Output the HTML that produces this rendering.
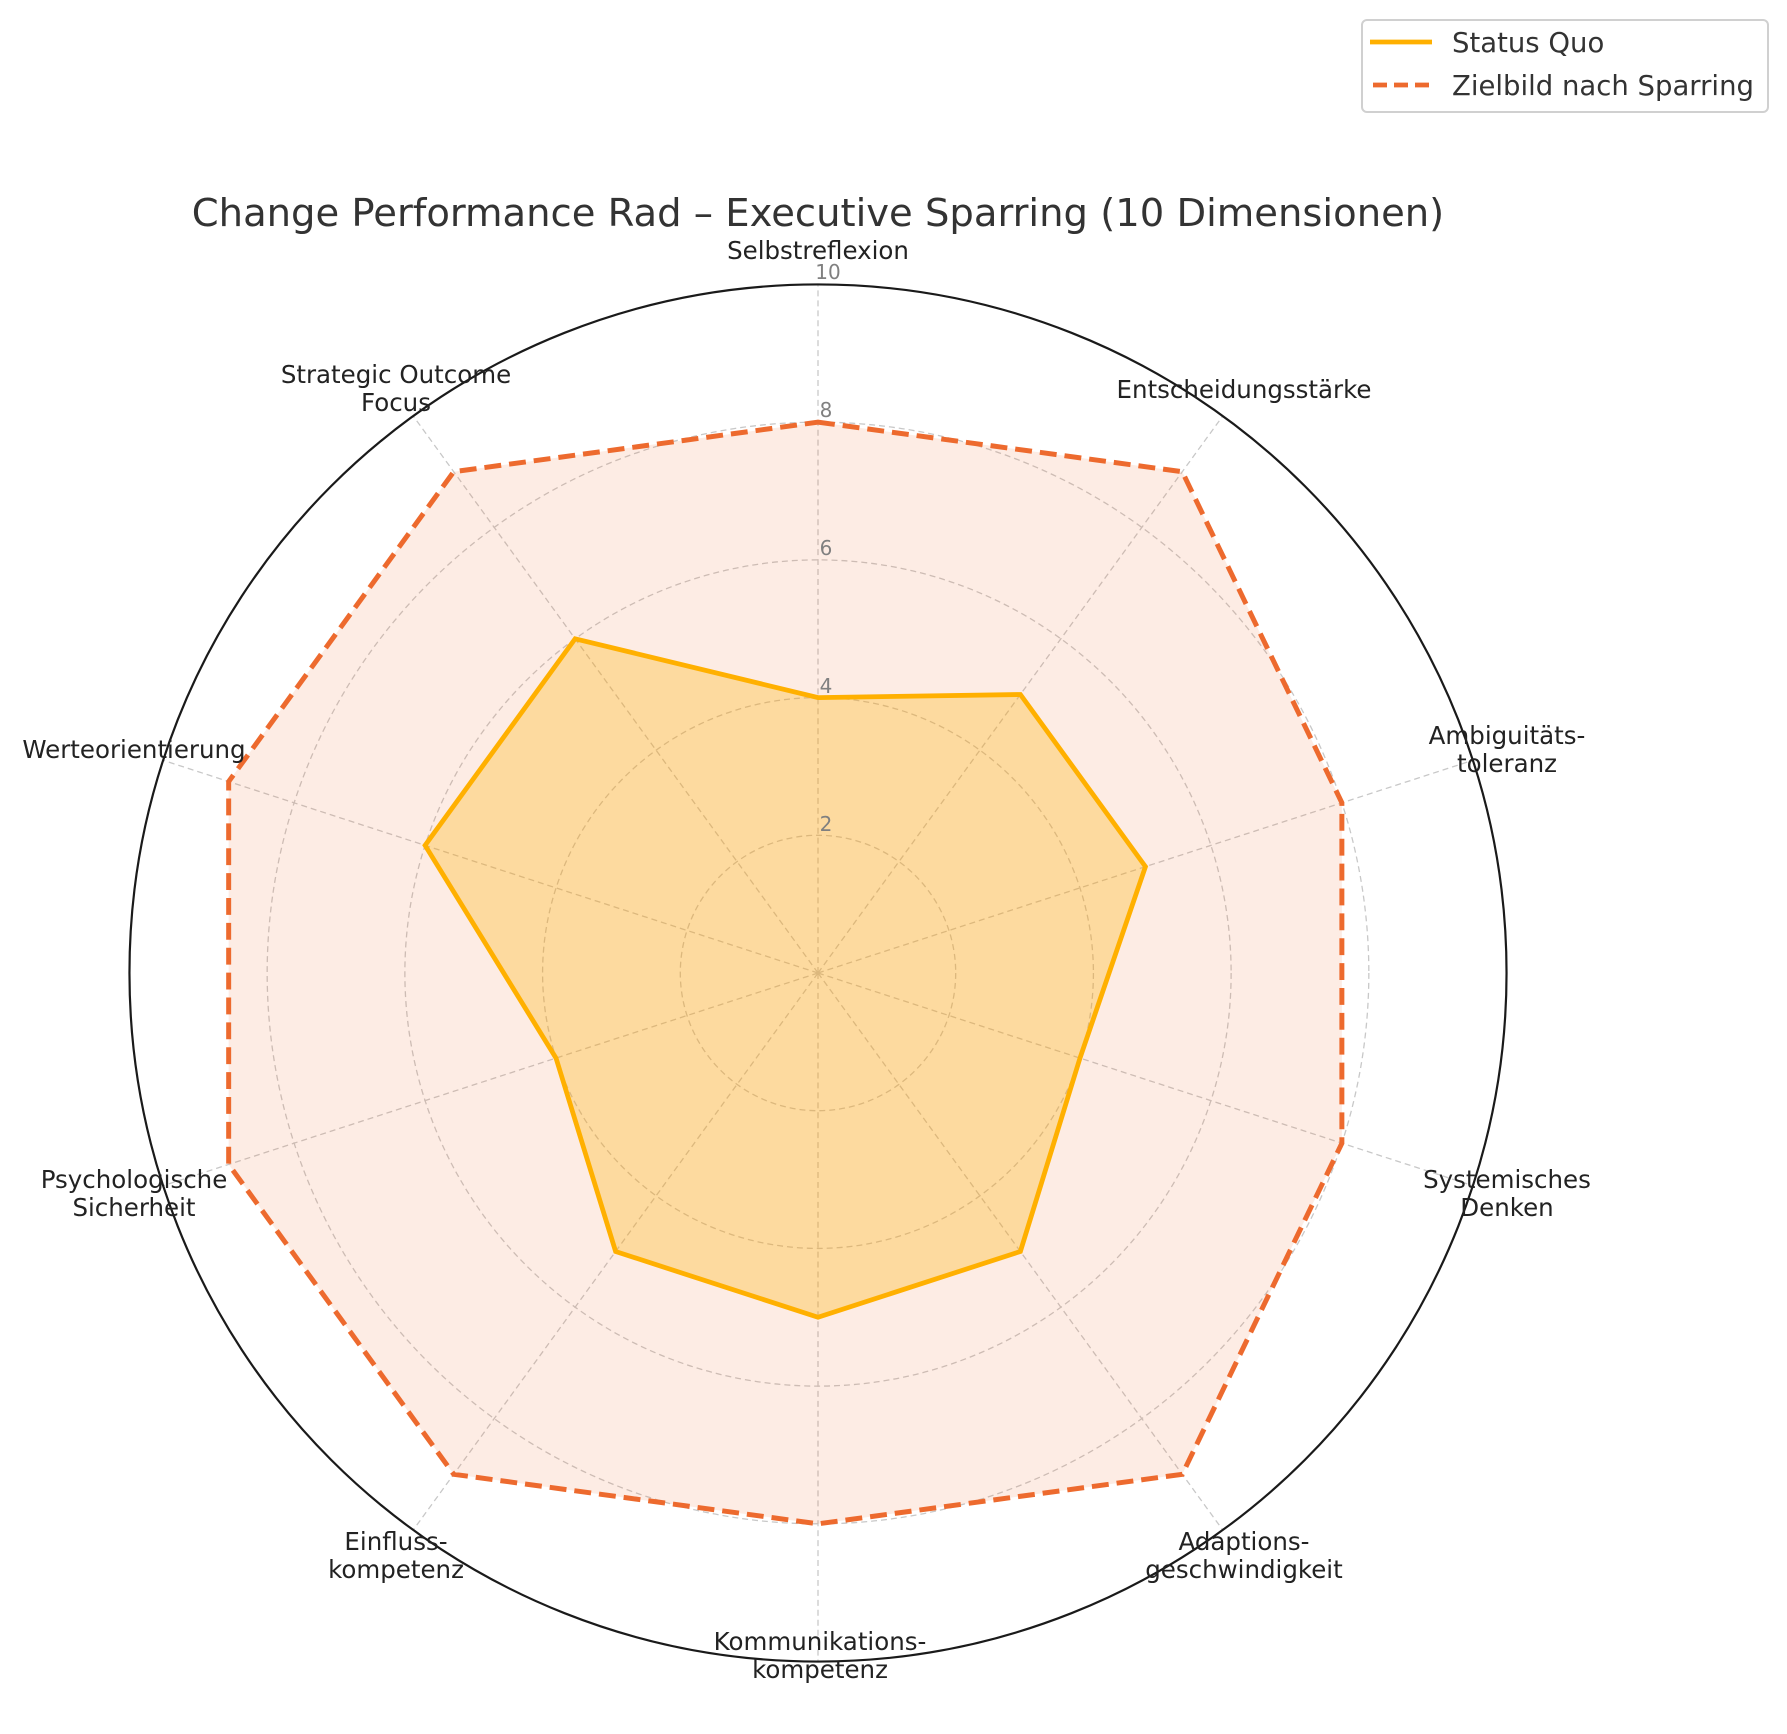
<!DOCTYPE html>
<html><head><meta charset="utf-8"><style>
html,body{margin:0;padding:0;background:#fff;}
svg{display:block;font-family:"DejaVu Sans","Liberation Sans",sans-serif;}
</style></head><body>
<svg width="1787" height="1734" viewBox="0 0 1787 1734" xmlns="http://www.w3.org/2000/svg">
<rect width="1787" height="1734" fill="#fff"/>
<text x="818" y="226" font-size="38.5" fill="#333" text-anchor="middle">Change Performance Rad – Executive Sparring (10 Dimensionen)</text>
<g transform="translate(818,973) scale(0.995) translate(-818,-975)">
<g fill="none" stroke="#c8c8c8" stroke-width="1.3" stroke-dasharray="6,4">
<circle cx="818" cy="975" r="138.4"/><circle cx="818" cy="975" r="276.8"/>
<circle cx="818" cy="975" r="415.2"/><circle cx="818" cy="975" r="553.6"/>
<line x1="818" y1="975" x2="818" y2="283"/><line x1="818" y1="975" x2="1224.8" y2="415.2"/>
<line x1="818" y1="975" x2="1476.2" y2="761.2"/><line x1="818" y1="975" x2="1476.2" y2="1188.8"/>
<line x1="818" y1="975" x2="1224.8" y2="1534.8"/><line x1="818" y1="975" x2="818" y2="1667"/>
<line x1="818" y1="975" x2="411.2" y2="1534.8"/><line x1="818" y1="975" x2="159.8" y2="1188.8"/>
<line x1="818" y1="975" x2="159.8" y2="761.2"/><line x1="818" y1="975" x2="411.2" y2="415.2"/>
</g>
<polygon points="818,421.4 1184.1,471.2 1344.5,803.9 1344.5,1146.1 1184.1,1478.8 818,1528.6 451.9,1478.8 225.7,1167.4 225.7,782.6 451.9,471.2" fill="#ed6a2e" fill-opacity="0.13" stroke="#ed6a2e" stroke-width="5" stroke-dasharray="17,8"/>
<polygon points="818,698.2 1021.4,695.1 1147.1,868.1 1081.3,1060.5 1021.4,1254.9 818,1321 614.6,1254.9 554.7,1060.5 423.1,846.7 573.9,639.1" fill="#ffb000" fill-opacity="0.3" stroke="#ffb000" stroke-width="4.8"/>
<circle cx="818" cy="975" r="692" fill="none" stroke="#1a1a1a" stroke-width="2.2"/>
</g>
<g font-size="20" fill="#808080" text-anchor="middle">
<text x="828" y="279">10</text><text x="826" y="417">8</text><text x="826" y="555">6</text>
<text x="826" y="693">4</text><text x="826" y="831">2</text>
</g>
<g font-size="24.5" fill="#222" text-anchor="middle" dominant-baseline="middle">
<text x="818" y="252">Selbstreflexion</text>
<text x="396" y="376">Strategic Outcome</text><text x="396" y="404">Focus</text>
<text x="1244" y="391">Entscheidungsstärke</text>
<text x="134" y="751">Werteorientierung</text>
<text x="1507" y="737">Ambiguitäts-</text><text x="1507" y="765">toleranz</text>
<text x="134" y="1181">Psychologische</text><text x="134" y="1209">Sicherheit</text>
<text x="1507" y="1181">Systemisches</text><text x="1507" y="1209">Denken</text>
<text x="396" y="1543">Einfluss-</text><text x="396" y="1571">kompetenz</text>
<text x="1244" y="1543">Adaptions-</text><text x="1244" y="1571">geschwindigkeit</text>
<text x="820" y="1643">Kommunikations-</text><text x="820" y="1671">kompetenz</text>
</g>
<rect x="1362" y="20" width="406" height="92" rx="5" fill="#fff" stroke="#d0d0d0" stroke-width="2"/>
<line x1="1370" y1="42" x2="1432" y2="42" stroke="#ffb000" stroke-width="4.8"/>
<line x1="1373" y1="85" x2="1432" y2="85" stroke="#ed6a2e" stroke-width="4.8" stroke-dasharray="14,7"/>
<g font-size="27.5" fill="#333" dominant-baseline="middle">
<text x="1452" y="44">Status Quo</text>
<text x="1452" y="87">Zielbild nach Sparring</text>
</g>
</svg>
</body></html>
